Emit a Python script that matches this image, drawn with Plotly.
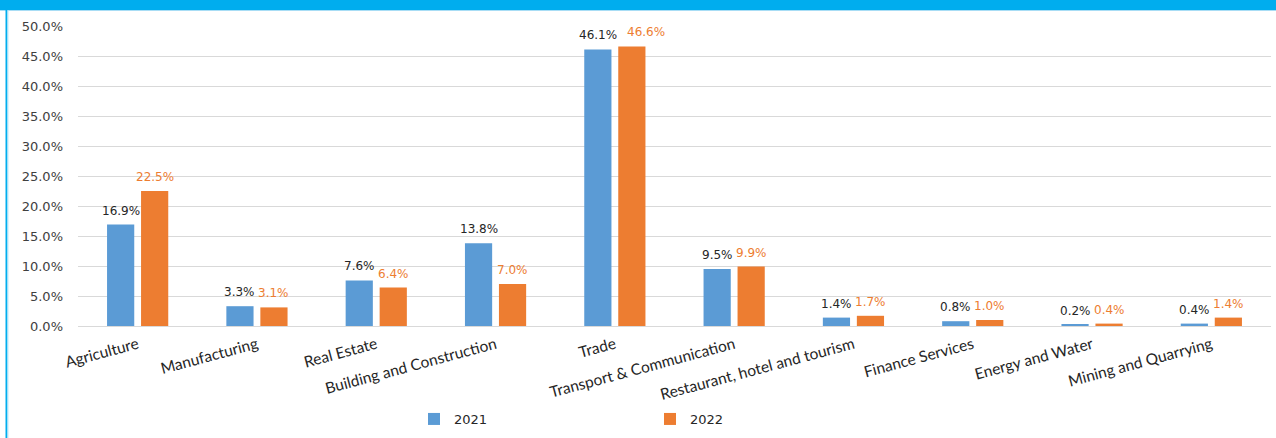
import plotly.graph_objects as go

categories = ["Agriculture", "Manufacturing", "Real Estate", "Building and Construction",
              "Trade", "Transport & Communication", "Restaurant, hotel and tourism",
              "Finance Services", "Energy and Water", "Mining and Quarrying"]
values_2021 = [16.9, 3.3, 7.6, 13.8, 46.1, 9.5, 1.4, 0.8, 0.2, 0.4]
values_2022 = [22.5, 3.1, 6.4, 7.0, 46.6, 9.9, 1.7, 1.0, 0.4, 1.4]
series_names = ["2021", "2022"]

BLUE = "#5B9BD5"
ORANGE = "#ED7D31"
W, H = 1276, 438
L, R, T, B = 78, 5, 26, 112
pw, ph = W - L - R, H - T - B
PX_PER_PCT = ph / 50.0

fig = go.Figure()
fig.add_trace(go.Bar(x=categories, y=[v / 100 for v in values_2021], name=series_names[0],
                     marker=dict(color=BLUE, line=dict(width=0))))
fig.add_trace(go.Bar(x=categories, y=[v / 100 for v in values_2022], name=series_names[1],
                     marker=dict(color=ORANGE, line=dict(width=0))))


def label_width(txt, size=12):
    w = {".": 0.318, "%": 0.95}
    return sum(w.get(c, 0.636) for c in txt) * size


annotations = []
for cat, v1, v2 in zip(categories, values_2021, values_2022):
    t1, t2 = f"{v1:.1f}%", f"{v2:.1f}%"
    shift2 = 17
    half_sum = (label_width(t1) + label_width(t2)) / 2
    # nudge the second label right only when the two labels would actually collide
    if abs(v1 - v2) * PX_PER_PCT < 14 and half_sum > 34:
        shift2 = half_sum + 10 - 17
    annotations.append(dict(x=cat, y=v1 / 100, text=t1, showarrow=False, xshift=-17,
                            yshift=14, font=dict(family="DejaVu Sans", size=12, color="#262626")))
    annotations.append(dict(x=cat, y=v2 / 100, text=t2, showarrow=False, xshift=shift2,
                            yshift=14, font=dict(family="DejaVu Sans", size=12, color=ORANGE)))

shapes = [
    # top banner
    dict(type="rect", xref="paper", yref="paper", x0=-L / pw, x1=(W - L) / pw,
         y0=1 + (T - 10) / ph, y1=1 + T / ph + 0.01, fillcolor="#00ADEE", line=dict(width=0), layer="above"),
    dict(type="line", xref="paper", yref="paper", x0=-L / pw, x1=(W - L) / pw,
         y0=1 + (T - 10.5) / ph, y1=1 + (T - 10.5) / ph, line=dict(color="#A8DDF5", width=1)),
    # left border
    dict(type="line", xref="paper", yref="paper", x0=-(L - 6.5) / pw, x1=-(L - 6.5) / pw,
         y0=-B / ph - 0.01, y1=1 + (T - 10) / ph, line=dict(color="#00ADEE", width=2)),
    dict(type="line", xref="paper", yref="paper", x0=-(L - 8) / pw, x1=-(L - 8) / pw,
         y0=-B / ph - 0.01, y1=1 + (T - 10) / ph, line=dict(color="#BFE8F8", width=1)),
]

fig.update_layout(
    width=W, height=H,
    margin=dict(l=L, r=R, t=T, b=B, autoexpand=False),
    paper_bgcolor="white", plot_bgcolor="white",
    barmode="group", bargap=0.43, bargroupgap=0.2,
    font=dict(family="DejaVu Sans", size=13, color="#404040"),
    showlegend=True,
    legend=dict(orientation="h", x=(414 - L) / pw, xanchor="left", y=-(419 - T - ph) / ph,
                yanchor="middle", entrywidth=191, entrywidthmode="pixels",
                bgcolor="rgba(0,0,0,0)",
                font=dict(family="DejaVu Sans", size=13, color="#262626"),
                itemwidth=30, tracegroupgap=0),
    annotations=annotations,
    shapes=shapes,
)
fig.update_yaxes(range=[0, 0.5], dtick=0.05, tickformat=".1%", showgrid=True,
                 gridcolor="#D9D9D9", gridwidth=1, zeroline=True, zerolinecolor="#D9D9D9",
                 zerolinewidth=1, showline=False, ticks="", ticklabelstandoff=14,
                 tickfont=dict(family="DejaVu Sans", size=13, color="#404040"))
fig.update_xaxes(tickangle=-15, showgrid=False, showline=False, ticks="", ticklabelstandoff=6,
                 tickfont=dict(family="Lato", size=15.5, color="#262626"))

fig.write_html("out.html", config={"displayModeBar": False},
               post_script="document.body.style.margin='0';document.body.style.overflow='hidden';")
